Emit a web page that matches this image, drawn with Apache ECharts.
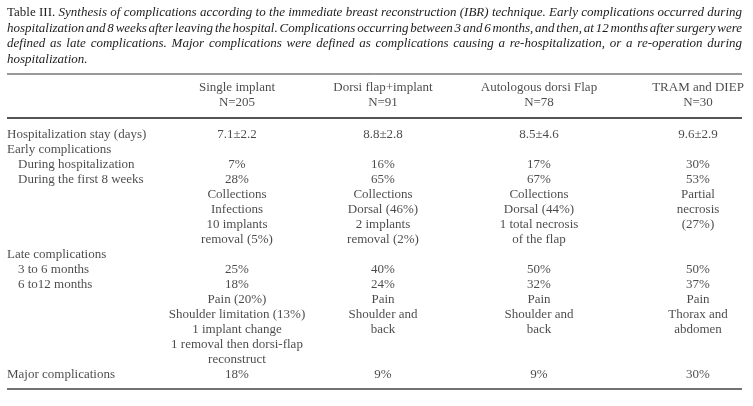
<!DOCTYPE html>
<html><head><meta charset="utf-8">
<script src="https://cdn.jsdelivr.net/npm/echarts@6/dist/echarts.min.js"></script>
<style>html,body{margin:0;padding:0;background:#fff}#c{width:753px;height:406px}</style>
</head><body><div id="c"></div>
<script>
// ---------- DATA ----------
const captionLead = 'Table III.';
const captionLines = [
  'Synthesis of complications according to the immediate breast reconstruction (IBR) technique. Early complications occurred during',
  'hospitalization and 8 weeks after leaving the hospital. Complications occurring between 3 and 6 months, and then, at 12 months after surgery were',
  'defined as late complications. Major complications were defined as complications causing a re-hospitalization, or a re-operation during',
  'hospitalization.'
];
const groups = ['Single implant', 'Dorsi flap+implant', 'Autologous dorsi Flap', 'TRAM and DIEP'];
const groupN = ['N=205', 'N=91', 'N=78', 'N=30'];
const rowLabels = ['Hospitalization stay (days)', 'Early complications', 'During hospitalization', 'During the first 8 weeks', '', '', '', '', 'Late complications', '3 to 6 months', '6 to12 months', '', '', '', '', '', 'Major complications'];
const rowIndent = [0, 0, 1, 1, 0, 0, 0, 0, 0, 1, 1, 0, 0, 0, 0, 0, 0];
const singleImplant = ['7.1±2.2', '', '7%', '28%', 'Collections', 'Infections', '10 implants', 'removal (5%)', '', '25%', '18%', 'Pain (20%)', 'Shoulder limitation (13%)', '1 implant change', '1 removal then dorsi-flap', 'reconstruct', '18%'];
const dorsiFlapImplant = ['8.8±2.8', '', '16%', '65%', 'Collections', 'Dorsal (46%)', '2 implants', 'removal (2%)', '', '40%', '24%', 'Pain', 'Shoulder and', 'back', '', '', '9%'];
const autologousDorsiFlap = ['8.5±4.6', '', '17%', '67%', 'Collections', 'Dorsal (44%)', '1 total necrosis', 'of the flap', '', '50%', '32%', 'Pain', 'Shoulder and', 'back', '', '', '9%'];
const tramDiep = ['9.6±2.9', '', '30%', '53%', 'Partial', 'necrosis', '(27%)', '', '', '50%', '37%', 'Pain', 'Thorax and', 'abdomen', '', '', '30%'];
const columns = [singleImplant, dorsiFlapImplant, autologousDorsiFlap, tramDiep];

// ---------- LAYOUT / STYLE ----------
const W = 753, H = 406;
const L = {
  left: 7, right: 742, indent: 11,
  colX: [237, 383, 539, 698],
  fontSize: 13, family: '"Liberation Serif","Times New Roman",serif',
  color: '#1c1c1c',
  capY: [13, 28.5, 44, 59.5],
  ruleTop: 74, ruleMid: 118, ruleBot: 389,
  headTop: 80.5, rowH: 15, bodyTop: 127
};
const fontN = L.fontSize + 'px ' + L.family;
const fontI = 'italic ' + fontN;

// ---------- CAPTION (justified) ----------
const mctx = document.createElement('canvas').getContext('2d');
function tw(t, f) { mctx.font = f; return mctx.measureText(t).width; }
const graphics = [];
captionLines.forEach((line, li) => {
  let toks = line.split(' ').map(t => ({ t, f: fontI }));
  if (li === 0) toks = captionLead.split(' ').map(t => ({ t, f: fontN })).concat(toks);
  const widths = toks.map(k => tw(k.t, k.f));
  const sum = widths.reduce((a, b) => a + b, 0);
  const last = li === captionLines.length - 1;
  const gap = last ? tw(' ', fontI) : (L.right - L.left - sum) / (toks.length - 1);
  let x = L.left;
  toks.forEach((k, i) => {
    graphics.push({ type: 'text', x: x, y: L.capY[li], silent: true,
      style: { text: k.t, font: k.f, fill: L.color, align: 'left', verticalAlign: 'middle' } });
    x += widths[i] + gap;
  });
});
[[L.ruleTop, 1, '#333'], [L.ruleMid, 2, '#555'], [L.ruleBot, 1.5, '#444']].forEach(r => {
  graphics.push({ type: 'line', silent: true, shape: { x1: L.left, y1: r[0], x2: L.right, y2: r[0] },
    style: { stroke: r[2], lineWidth: r[1] } });
});

// ---------- SERIES ----------
const baseLabel = { show: true, color: L.color, fontSize: L.fontSize, fontFamily: L.family, formatter: p => p.name };
function textSeries(grid, data, pos) {
  return {
    type: 'scatter', xAxisIndex: grid, yAxisIndex: grid, symbolSize: 0.01,
    itemStyle: { color: 'rgba(0,0,0,0)' }, silent: true, animation: false,
    label: Object.assign({}, baseLabel, pos === 'left' ? { position: 'right', distance: 0, align: 'left' } : { position: 'inside', align: 'center' }),
    data: data
  };
}
const series = [];
// header
series.push(textSeries(0, groups.map((g, i) => ({ name: g, value: [L.colX[i], 0] })).concat(groupN.map((g, i) => ({ name: g, value: [L.colX[i], 1] }))), 'center'));
// row labels
series.push(textSeries(1, rowLabels.map((r, i) => ({ name: r, value: [L.left + L.indent * rowIndent[i], i] })).filter(d => d.name), 'left'));
// columns
columns.forEach((col, c) => {
  series.push(textSeries(1, col.map((t, i) => ({ name: t, value: [L.colX[c], i] })).filter(d => d.name), 'center'));
});

const rowIdx = rowLabels.map((_, i) => i);
const chart = echarts.init(document.getElementById('c'), null, { renderer: 'canvas' });
chart.setOption({
  backgroundColor: '#fff',
  animation: false,
  grid: [
    { left: 0, right: 0, top: L.headTop, height: 2 * L.rowH },
    { left: 0, right: 0, top: L.bodyTop, height: rowLabels.length * L.rowH }
  ],
  xAxis: [0, 1].map(g => ({ type: 'value', gridIndex: g, min: 0, max: W, show: false })),
  yAxis: [
    { type: 'category', gridIndex: 0, data: [0, 1], inverse: true, show: false },
    { type: 'category', gridIndex: 1, data: rowIdx, inverse: true, show: false }
  ],
  graphic: graphics,
  series: series
});
</script>
</body></html>
